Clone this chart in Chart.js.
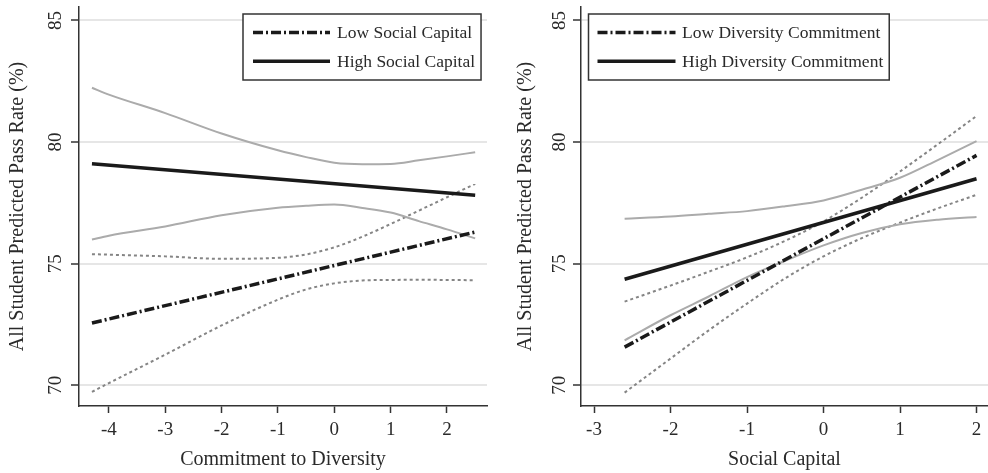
<!DOCTYPE html>
<html>
<head>
<meta charset="utf-8">
<script src="https://cdn.jsdelivr.net/npm/chart.js@4"></script>
<style>
html, body { margin: 0; padding: 0; background: #fff; }
#wrap { width: 988px; height: 473px; display: flex; }
canvas { display: block; }
</style>
</head>
<body>
<div id="wrap">
	<canvas id="left" width="494" height="473"></canvas>
	<canvas id="right" width="494" height="473"></canvas>
</div>
<script>
// left panel: x = commitment to diversity
var leftLineX = [-4.3, 2.5];
var lowSocial = [72.56, 76.30];
var highSocial = [79.11, 77.81];

var leftBandX = [-4.3, -4, -3, -2, -1, -0.5, 0, 0.5, 1, 1.5, 2, 2.5];
var lowSocialUpper = [75.39, 75.37, 75.30, 75.20, 75.24, 75.38, 75.67, 76.11, 76.63, 77.18, 77.73, 78.28];
var lowSocialLower = [69.73, 70.09, 71.26, 72.46, 73.52, 73.94, 74.19, 74.31, 74.33, 74.34, 74.33, 74.32];
var highSocialUpper = [82.23, 81.95, 81.19, 80.35, 79.66, 79.38, 79.15, 79.09, 79.10, 79.25, 79.41, 79.58];
var highSocialLower = [75.99, 76.15, 76.53, 76.99, 77.30, 77.38, 77.43, 77.29, 77.10, 76.75, 76.41, 76.04];

// right panel: x = social capital
var rightLineX = [-2.6, 2];
var lowDiversity = [71.57, 79.45];
var highDiversity = [74.36, 78.49];

var rightBandX = [-2.6, -2, -1.5, -1, -0.5, 0, 0.5, 1, 1.5, 2];
var lowDivUpper = [73.44, 74.10, 74.67, 75.26, 75.94, 76.74, 77.71, 78.79, 79.92, 81.07];
var lowDivLower = [69.70, 71.10, 72.26, 73.36, 74.40, 75.30, 76.05, 76.69, 77.28, 77.83];
var highDivUpper = [76.85, 76.94, 77.05, 77.16, 77.36, 77.60, 78.04, 78.53, 79.27, 80.04];
var highDivLower = [71.85, 72.88, 73.65, 74.45, 75.12, 75.75, 76.26, 76.62, 76.81, 76.92];

var yTicks = [70, 75, 80, 85];
var leftXTicks = [-4, -3, -2, -1, 0, 1, 2];
var rightXTicks = [-3, -2, -1, 0, 1, 2];

var SERIF = '"Liberation Serif", "DejaVu Serif", serif';
var INK = '#2a2a2a';

function pts(xs, ys) {
	return xs.map(function(x, i) { return { x: x, y: ys[i] }; });
}

function mainLine(label, xs, ys, dash) {
	return {
		label: label, legend: true, data: pts(xs, ys),
		borderColor: '#1a1a1a', borderWidth: 3.5, borderDash: dash,
		pointRadius: 0, tension: 0, order: 0
	};
}

function bandLine(xs, ys, dotted) {
	return {
		label: '', data: pts(xs, ys),
		borderColor: dotted ? '#858585' : '#ababab', borderWidth: 2,
		borderDash: dotted ? [3, 3] : [],
		pointRadius: 0, cubicInterpolationMode: 'monotone', order: 1
	};
}

// legend drawn as a framed box inside the plot, like the original
var boxLegend = {
	id: 'boxLegend',
	afterDraw: function(chart, args, opts) {
		var ctx = chart.ctx;
		var items = chart.data.datasets.filter(function(d) { return d.legend; });
		ctx.save();
		ctx.font = '17.5px ' + SERIF;
		var textW = Math.max.apply(null, items.map(function(d) { return ctx.measureText(d.label).width; }));
		var textX = opts.left + opts.pad + opts.sample + opts.gap;
		var w = textX + textW + 6 - opts.left;
		ctx.fillStyle = '#fff';
		ctx.fillRect(opts.left, opts.top, w, opts.height);
		ctx.strokeStyle = '#333';
		ctx.lineWidth = 1.5;
		ctx.strokeRect(opts.left, opts.top, w, opts.height);
		items.forEach(function(d, i) {
			var y = opts.top + opts.rowTop + i * opts.rowH;
			ctx.beginPath();
			ctx.setLineDash(d.borderDash || []);
			ctx.strokeStyle = d.borderColor;
			ctx.lineWidth = d.borderWidth;
			ctx.moveTo(opts.left + opts.pad, y);
			ctx.lineTo(opts.left + opts.pad + opts.sample, y);
			ctx.stroke();
			ctx.setLineDash([]);
			ctx.fillStyle = INK;
			ctx.textBaseline = 'middle';
			ctx.fillText(d.label, textX, y + 1);
		});
		ctx.restore();
	}
};

function panel(id, p) {
	var ctx = document.getElementById(id).getContext('2d');
	return new Chart(ctx, {
		type: 'line',
		data: { datasets: p.datasets },
		plugins: [boxLegend],
		options: {
			responsive: false,
			animation: false,
			devicePixelRatio: 1,
			layout: { padding: { top: 7, right: p.padRight, left: 0, bottom: 0 } },
			plugins: {
				legend: { display: false },
				tooltip: { enabled: false },
				boxLegend: p.legend
			},
			scales: {
				x: {
					type: 'linear', min: p.xMin, max: p.xMax,
					afterBuildTicks: function(s) { s.ticks = p.xTicks.map(function(v) { return { value: v }; }); },
					afterFit: function(s) { s.height = 67; s.paddingLeft = 0; s.paddingRight = 0; },
					grid: { drawOnChartArea: false, tickLength: 7, tickColor: '#333', tickWidth: 1.5 },
					border: { color: '#333', width: 1.5 },
					ticks: { color: INK, font: { family: SERIF, size: 19 }, padding: 6, maxRotation: 0, autoSkip: false },
					title: { display: true, text: p.xTitle, color: INK, font: { family: SERIF, size: 20 }, padding: { top: 0, bottom: 1 } }
				},
				y: {
					type: 'linear', min: 69.15, max: 85.55,
					afterBuildTicks: function(s) { s.ticks = yTicks.map(function(v) { return { value: v }; }); },
					afterFit: function(s) { s.width = p.yWidth; s.paddingTop = 0; s.paddingBottom = 0; },
					grid: { color: '#e6e6e6', lineWidth: 2, tickColor: '#333', tickLength: 8, tickWidth: 1.5 },
					border: { color: '#333', width: 1.5 },
					ticks: { color: INK, font: { family: SERIF, size: 19 }, padding: p.yTickPad, minRotation: 90, maxRotation: 90, crossAlign: 'center', autoSkip: false },
					title: { display: true, text: 'All Student Predicted Pass Rate (%)', color: INK, font: { family: SERIF, size: 20 }, padding: { top: p.yTitlePad, bottom: 0 } }
				}
			}
		}
	});
}

panel('left', {
	xMin: -4.53, xMax: 2.71, xTicks: leftXTicks, padRight: 7, yWidth: 79, yTickPad: 5, yTitlePad: 6,
	xTitle: 'Commitment to Diversity',
	legend: { left: 243, top: 14, height: 66, pad: 10, sample: 77, gap: 7, rowTop: 18.5, rowH: 28.7 },
	datasets: [
		mainLine('Low Social Capital', leftLineX, lowSocial, [10, 3, 2, 3]),
		mainLine('High Social Capital', leftLineX, highSocial, []),
		bandLine(leftBandX, highSocialUpper, false),
		bandLine(leftBandX, highSocialLower, false),
		bandLine(leftBandX, lowSocialUpper, true),
		bandLine(leftBandX, lowSocialLower, true)
	]
});

panel('right', {
	xMin: -3.17, xMax: 2.15, xTicks: rightXTicks, padRight: 0, yWidth: 87, yTickPad: 3, yTitlePad: 20,
	xTitle: 'Social Capital',
	legend: { left: 94.5, top: 14, height: 66, pad: 9, sample: 78, gap: 6.5, rowTop: 18.5, rowH: 28.7 },
	datasets: [
		mainLine('Low Diversity Commitment', rightLineX, lowDiversity, [10, 3, 2, 3]),
		mainLine('High Diversity Commitment', rightLineX, highDiversity, []),
		bandLine(rightBandX, highDivUpper, false),
		bandLine(rightBandX, highDivLower, false),
		bandLine(rightBandX, lowDivUpper, true),
		bandLine(rightBandX, lowDivLower, true)
	]
});
</script>
</body>
</html>
